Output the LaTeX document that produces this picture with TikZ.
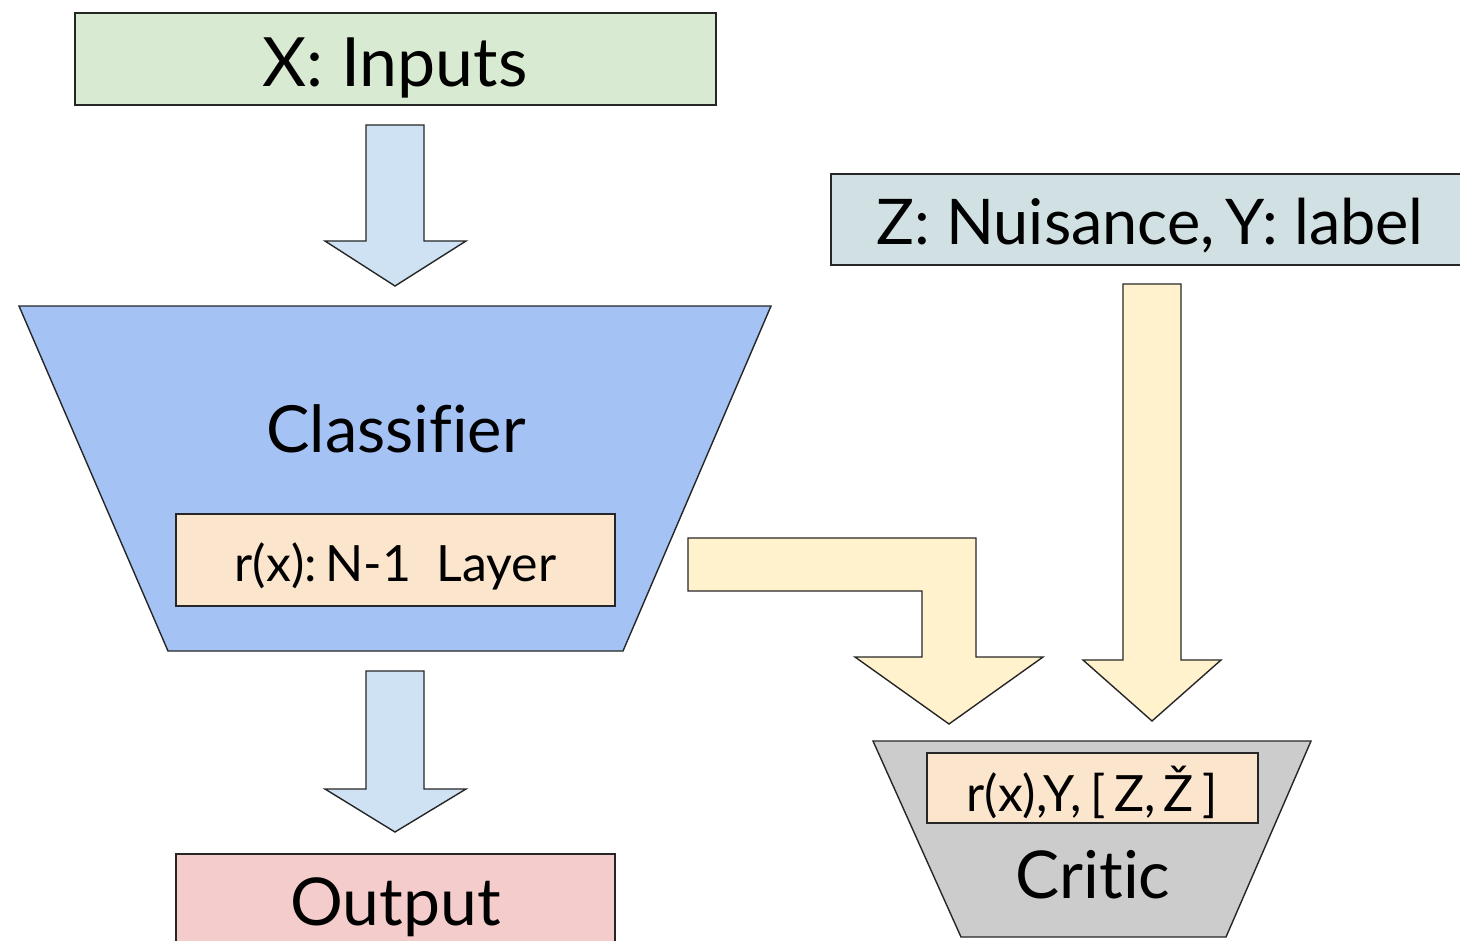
\documentclass[tikz,border=0pt]{standalone}
\usepackage{fontspec}
\setmainfont{Lato}[Ligatures=NoCommon]
\begin{document}
\begin{tikzpicture}[x=0.5pt,y=-0.5pt,
  shp/.style={draw=black!85, line width=0.7pt, line join=miter},
  lbl/.style={anchor=base, inner sep=0pt},
  big/.style={lbl, font=\fontsize{34}{38}\selectfont},
  mid/.style={lbl, font=\fontsize{25}{30}\selectfont}]
\definecolor{cgreen}{HTML}{D9EAD3}
\definecolor{cblue}{HTML}{A4C2F4}
\definecolor{carrow}{HTML}{CFE2F3}
\definecolor{cpeach}{HTML}{FCE5CD}
\definecolor{cpink}{HTML}{F4CCCC}
\definecolor{cgrey}{HTML}{D0E0E3}
\definecolor{cyel}{HTML}{FFF2CC}
\definecolor{ccrit}{HTML}{CCCCCC}
\useasboundingbox (0,0) rectangle (1460,941);
% Inputs
\draw[shp, fill=cgreen] (75,13) rectangle (716,105);
\node[big] (inputs) at (395,87) {X: Inputs};
% arrow 1
\draw[shp, fill=carrow] (366,125) -- (424,125) -- (424,241) -- (466,241) -- (395,286) -- (325,241) -- (366,241) -- cycle;
% Classifier
\draw[shp, fill=cblue] (19,306) -- (771,306) -- (623,651) -- (168,651) -- cycle;
\node[big, font=\fontsize{32.5}{38}\selectfont] (classifier) at (396,452) {Classifier};
\draw[shp, fill=cpeach] (176,514) rectangle (615,606);
\node[mid] (layer) at (395.5,581) {r(x):\,N-1\ \ Layer};
% arrow 2
\draw[shp, fill=carrow] (366,671) -- (424,671) -- (424,789) -- (466,789) -- (395,832) -- (325,789) -- (366,789) -- cycle;
% Output
\draw[shp, fill=cpink] (176,854) rectangle (615,960);
\node[big, font=\fontsize{33}{38}\selectfont] (output) at (395.5,925) {Output};
% Nuisance
\draw[shp, fill=cgrey] (831,174) rectangle (1470,265);
\node[big, font=\fontsize{31.5}{38}\selectfont] (nuis) at (1150,244) {Z: Nuisance,\,Y: label};
% vertical yellow arrow
\draw[shp, fill=cyel] (1123,284) -- (1181,284) -- (1181,660) -- (1221,660) -- (1152,721) -- (1083,660) -- (1123,660) -- cycle;
% bent arrow
\draw[shp, fill=cyel] (688,538) -- (976,538) -- (976,657) -- (1043,657) -- (949,724) -- (855,657) -- (922,657) -- (922,591) -- (688,591) -- cycle;
% Critic
\draw[shp, fill=ccrit] (873,741) -- (1311,741) -- (1226,937) -- (961,937) -- cycle;
\draw[shp, fill=cpeach] (927,753) rectangle (1258,823);
\node[mid] (critin) at (1092,811) {r(x),Y,\,[\,Z,\,Ž\,]};
\node[big, font=\fontsize{33}{38}\selectfont] (critic) at (1093,898) {Critic};
\end{tikzpicture}
\end{document}
